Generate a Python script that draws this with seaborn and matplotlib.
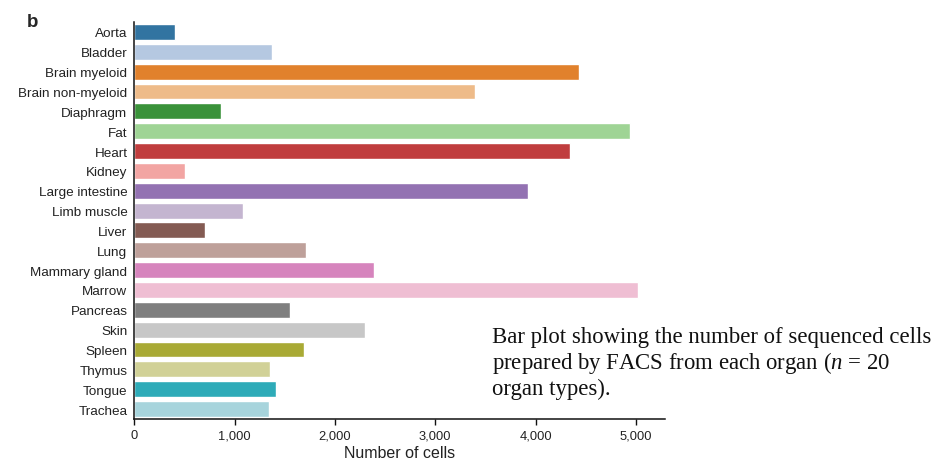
import matplotlib
matplotlib.use("Agg")
import matplotlib.pyplot as plt
import seaborn as sns
import pandas as pd

# Cells sequenced per organ (FACS)
organs = [
    "Aorta", "Bladder", "Brain myeloid", "Brain non-myeloid", "Diaphragm",
    "Fat", "Heart", "Kidney", "Large intestine", "Limb muscle",
    "Liver", "Lung", "Mammary gland", "Marrow", "Pancreas",
    "Skin", "Spleen", "Thymus", "Tongue", "Trachea",
]
cell_counts = [
    404, 1374, 4436, 3393, 864,
    4945, 4347, 510, 3920, 1082,
    709, 1712, 2390, 5022, 1556,
    2298, 1688, 1348, 1410, 1345,
]
x_ticks = [0, 1000, 2000, 3000, 4000, 5000]
x_tick_labels = ["0", "1,000", "2,000", "3,000", "4,000", "5,000"]

caption_lines = [
    "Bar plot showing the number of sequenced cells",
    "prepared by FACS from each organ ($n$ = 20",
    "organ types).",
]

sns.set_style("white")
plt.rcParams["font.family"] = ["Liberation Sans", "DejaVu Sans"]
plt.rcParams["mathtext.fontset"] = "custom"
plt.rcParams["mathtext.rm"] = "Liberation Serif"
plt.rcParams["mathtext.it"] = "Liberation Serif:italic"

df = pd.DataFrame({"organ": organs, "cells": cell_counts})
palette = sns.color_palette("tab20", n_colors=len(organs))

fig = plt.figure(figsize=(9.46, 4.64), dpi=100)
ax = fig.add_axes([0.142, 0.0948, 0.561, 0.8556])

sns.barplot(
    data=df, x="cells", y="organ", hue="organ", palette=palette,
    legend=False, saturation=0.75, width=0.8, ax=ax,
)

ax.set_xlim(0, 5290)
ax.set_xticks(x_ticks)
ax.set_xticklabels(x_tick_labels)
ax.set_xlabel("Number of cells", fontsize=11.5, color="#222222", labelpad=3)
ax.set_ylabel("")

for side in ("top", "right"):
    ax.spines[side].set_visible(False)
for side in ("left", "bottom"):
    ax.spines[side].set_color("#111111")
    ax.spines[side].set_linewidth(1.1)

ax.tick_params(axis="y", left=False, length=0, pad=5, labelsize=9.7,
               labelcolor="#222222")
ax.tick_params(axis="x", bottom=True, length=4.3, width=1.0, direction="out",
               pad=3, labelsize=9.3, labelcolor="#222222", color="#111111")

# Panel letter
fig.text(0.028, 0.97, "b", fontsize=13.5, fontweight="bold", va="top", ha="left")

# Caption beside the bars
for i, line in enumerate(caption_lines):
    fig.text(0.520, 1 - (338 + 25.5 * i) / 464, line, fontsize=16.4,
             family="Liberation Serif", va="center", ha="left", color="#111111")

fig.savefig("out.png", dpi=100, facecolor="white")
